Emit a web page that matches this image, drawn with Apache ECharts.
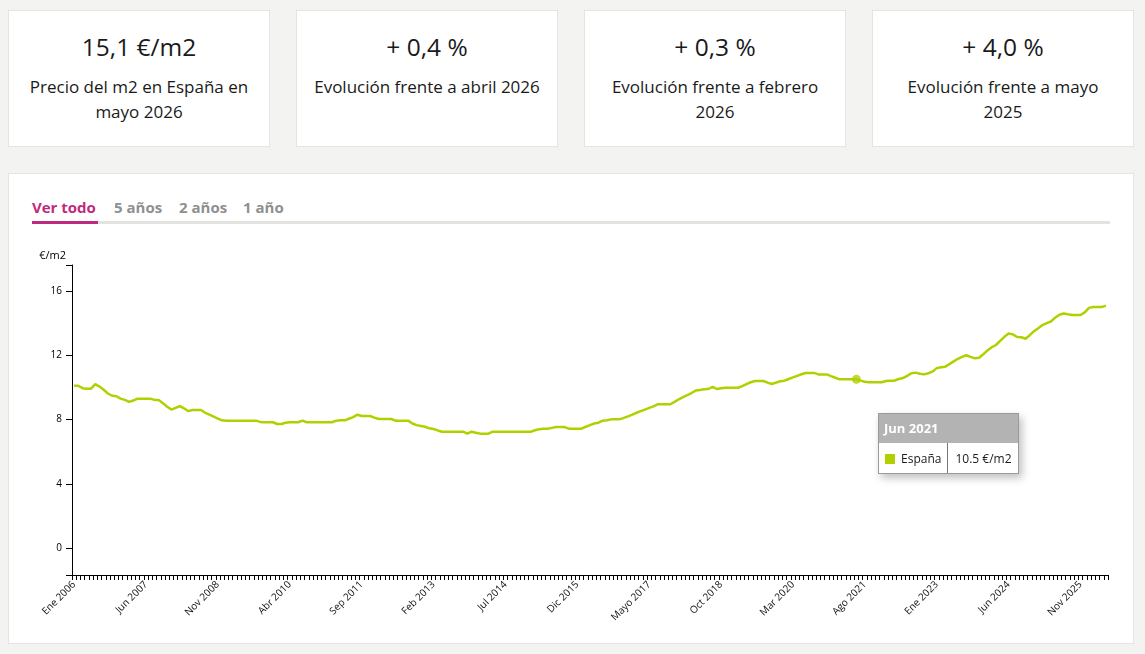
<!DOCTYPE html>
<html>
<head>
<meta charset="utf-8">
<script src="https://cdn.jsdelivr.net/npm/echarts@6/dist/echarts.min.js"></script>
<style>
  html, body { margin:0; padding:0; }
  body { width:1145px; height:654px; background:#f3f3f2; position:relative; overflow:hidden; font-family:"Open Sans", sans-serif; color:#1a1a1a; }
  .card { position:absolute; top:10px; width:262px; height:137px; background:#fff; border:1px solid #e4e4e2; box-sizing:border-box; text-align:center; }
  .card .val { position:absolute; left:0; right:0; top:19px; font-size:24.5px; line-height:34px; }
  .card .desc { position:absolute; left:17px; right:17px; top:63px; font-size:17px; line-height:25px; }
  .panel { position:absolute; left:8px; top:173px; width:1126px; height:471px; background:#fff; border:1px solid #e4e4e2; box-sizing:border-box; }
  .tab { position:absolute; top:196px; font-size:15px; font-weight:700; color:#8f8f8f; line-height:22px; }
  .tab.active { color:#bf2a7e; }
  .uline { position:absolute; left:32px; top:221px; width:1078px; height:3px; background:#e3e3e0; }
  .uline-act { position:absolute; left:32px; top:221px; width:66px; height:3px; background:#bf2a7e; }
  #chart { position:absolute; left:8px; top:230px; width:1126px; height:414px; }
  .tt { font-family:"Open Sans", sans-serif; background:#fff; box-shadow:3px 4px 8px rgba(0,0,0,0.25); border:1px solid #9a9a9a; }
  .tt .hd { background:#b3b3b3; color:#fff; font-weight:700; font-size:13px; height:29px; line-height:29px; padding-left:5px; }
  .tt table { border-collapse:collapse; font-size:12px; color:#1a1a1a; }
  .tt td { height:30px; padding:0 6px; }
  .tt td + td { border-left:1px solid #777; padding:0 6px 0 7px; }
  .tt .sq { display:inline-block; width:10px; height:10px; background:#b2d000; margin-right:6px; vertical-align:-1px; }
</style>
</head>
<body>
<div class="card" style="left:8px"><div class="val">15,1 €/m2</div><div class="desc">Precio del m2 en España en mayo 2026</div></div>
<div class="card" style="left:296px"><div class="val">+ 0,4 %</div><div class="desc">Evolución frente a abril 2026</div></div>
<div class="card" style="left:584px"><div class="val">+ 0,3 %</div><div class="desc">Evolución frente a febrero 2026</div></div>
<div class="card" style="left:872px"><div class="val">+ 4,0 %</div><div class="desc">Evolución frente a mayo 2025</div></div>
<div class="panel"></div>
<div class="tab active" style="left:32px">Ver todo</div>
<div class="tab" style="left:114px">5 años</div>
<div class="tab" style="left:179px">2 años</div>
<div class="tab" style="left:243px">1 año</div>
<div class="uline"></div>
<div class="uline-act"></div>
<div id="chart"></div>
<script>
// ---- data ----
const monthNames = ["Ene","Feb","Mar","Abr","Mayo","Jun","Jul","Ago","Sep","Oct","Nov","Dic"];
const firstYear = 2006;
const lastYear = 2026;
const lastMonthIndex = 4; // Mayo 2026
const seriesName = "España";
const unit = "€/m2";
const yTickValues = [0, 4, 8, 12, 16];
const highlightLabel = "Jun 2021";

const v2006 = [10.1, 10.1, 9.95, 9.92, 9.92, 10.2, 10.05, 9.85, 9.62, 9.48, 9.45, 9.3];
const v2007 = [9.22, 9.1, 9.18, 9.3, 9.3, 9.3, 9.3, 9.22, 9.22, 9.02, 8.8, 8.62];
const v2008 = [8.72, 8.84, 8.7, 8.52, 8.59, 8.59, 8.59, 8.42, 8.3, 8.18, 8.06, 7.95];
const v2009 = [7.93, 7.93, 7.93, 7.93, 7.93, 7.93, 7.93, 7.93, 7.85, 7.83, 7.83, 7.83];
const v2010 = [7.72, 7.72, 7.8, 7.83, 7.83, 7.83, 7.93, 7.83, 7.83, 7.83, 7.83, 7.83];
const v2011 = [7.83, 7.83, 7.93, 7.95, 7.95, 8.05, 8.15, 8.3, 8.22, 8.22, 8.22, 8.12];
const v2012 = [8.03, 8.03, 8.03, 8.03, 7.93, 7.93, 7.93, 7.93, 7.75, 7.65, 7.6, 7.55];
const v2013 = [7.45, 7.41, 7.32, 7.24, 7.24, 7.24, 7.24, 7.24, 7.24, 7.12, 7.24, 7.18];
const v2014 = [7.12, 7.12, 7.12, 7.24, 7.24, 7.24, 7.24, 7.24, 7.24, 7.24, 7.24, 7.24];
const v2015 = [7.24, 7.33, 7.4, 7.43, 7.43, 7.48, 7.53, 7.53, 7.53, 7.43, 7.43, 7.43];
const v2016 = [7.43, 7.55, 7.65, 7.75, 7.8, 7.93, 7.95, 8.01, 8.01, 8.01, 8.1, 8.2];
const v2017 = [8.3, 8.42, 8.52, 8.62, 8.72, 8.82, 8.95, 8.95, 8.95, 8.95, 9.1, 9.26];
const v2018 = [9.4, 9.52, 9.65, 9.8, 9.84, 9.88, 9.9, 10.03, 9.9, 9.95, 9.98, 9.98];
const v2019 = [9.98, 9.98, 10.08, 10.2, 10.32, 10.4, 10.4, 10.4, 10.3, 10.21, 10.3, 10.38];
const v2020 = [10.42, 10.52, 10.62, 10.72, 10.82, 10.9, 10.9, 10.9, 10.81, 10.81, 10.81, 10.7];
const v2021 = [10.6, 10.5, 10.5, 10.5, 10.5, 10.5, 10.42, 10.35, 10.32, 10.32, 10.32, 10.32];
const v2022 = [10.4, 10.42, 10.42, 10.52, 10.58, 10.72, 10.88, 10.92, 10.85, 10.81, 10.88, 10.98];
const v2023 = [11.2, 11.25, 11.29, 11.45, 11.62, 11.78, 11.9, 12.0, 11.9, 11.81, 11.85, 12.06];
const v2024 = [12.3, 12.5, 12.64, 12.9, 13.15, 13.35, 13.3, 13.14, 13.12, 13.03, 13.25, 13.5];
const v2025 = [13.68, 13.88, 14.0, 14.1, 14.34, 14.52, 14.6, 14.55, 14.51, 14.51, 14.51, 14.67];
const v2026 = [14.95, 15.0, 15.0, 15.0, 15.09];

// ---- build ----
const values = [].concat(v2006, v2007, v2008, v2009, v2010, v2011, v2012, v2013, v2014, v2015,
  v2016, v2017, v2018, v2019, v2020, v2021, v2022, v2023, v2024, v2025, v2026);
const categories = [];
for (let y = firstYear; y <= lastYear; y++) {
  for (let m = 0; m < 12; m++) {
    if (y === lastYear && m > lastMonthIndex) break;
    categories.push(monthNames[m] + " " + y);
  }
}
const hiIdx = categories.indexOf(highlightLabel);

const Y_MIN = -1.68, Y_MAX = 17.62;
const GREEN = '#b2d000';
const FONT = '"Open Sans", sans-serif';

const chart = echarts.init(document.getElementById('chart'), null, { renderer: 'canvas' });
chart.setOption({
  animation: false,
  grid: { left: 64, right: 26, top: 35, bottom: 69 },
  tooltip: {
    trigger: 'item',
    alwaysShowContent: true,
    showContent: true,
    transitionDuration: 0,
    padding: 0,
    borderWidth: 0,
    backgroundColor: 'transparent',
    extraCssText: 'box-shadow:none;border-radius:0;',
    position: function (point) { return [point[0] + 22, point[1] + 34]; },
    formatter: function (p) {
      const i = p.data[0];
      return '<div class="tt"><div class="hd">' + categories[i] + '</div>' +
        '<table><tr><td><span class="sq"></span>' + seriesName + '</td><td>' +
        values[i].toFixed(1) + ' ' + unit + '</td></tr></table></div>';
    }
  },
  xAxis: {
    type: 'category',
    data: categories,
    boundaryGap: true,
    axisLine: { onZero: false, lineStyle: { color: '#000', width: 1 } },
    axisTick: { show: true, interval: 0, length: 5, lineStyle: { color: '#000', width: 1 } },
    axisLabel: { interval: 16, rotate: 45, fontSize: 10, color: '#111', fontFamily: FONT, margin: 8 },
    splitLine: { show: false }
  },
  yAxis: {
    type: 'value',
    min: Y_MIN,
    max: Y_MAX,
    name: unit,
    nameLocation: 'end',
    nameGap: 4,
    nameTextStyle: { color: '#000', fontSize: 11, fontFamily: FONT, align: 'right', padding: [0, 6, 0, 0] },
    axisLine: { show: true, lineStyle: { color: '#000', width: 1 } },
    axisTick: { show: true, length: 6, lineStyle: { color: '#000' }, customValues: [Y_MIN].concat(yTickValues, [Y_MAX]) },
    axisLabel: { color: '#000', fontSize: 10, fontFamily: FONT, margin: 10, customValues: yTickValues },
    splitLine: { show: false }
  },
  series: [
    {
      type: 'line',
      name: seriesName,
      data: values,
      showSymbol: false,
      silent: true,
      lineStyle: { color: GREEN, width: 2.5 },
      itemStyle: { color: GREEN },
      tooltip: { show: false }
    },
    {
      type: 'scatter',
      name: seriesName,
      data: [[hiIdx, values[hiIdx]]],
      symbol: 'circle',
      symbolSize: 9,
      itemStyle: { color: GREEN },
      z: 5
    }
  ]
});
chart.dispatchAction({ type: 'showTip', seriesIndex: 1, dataIndex: 0 });
</script>
</body>
</html>
